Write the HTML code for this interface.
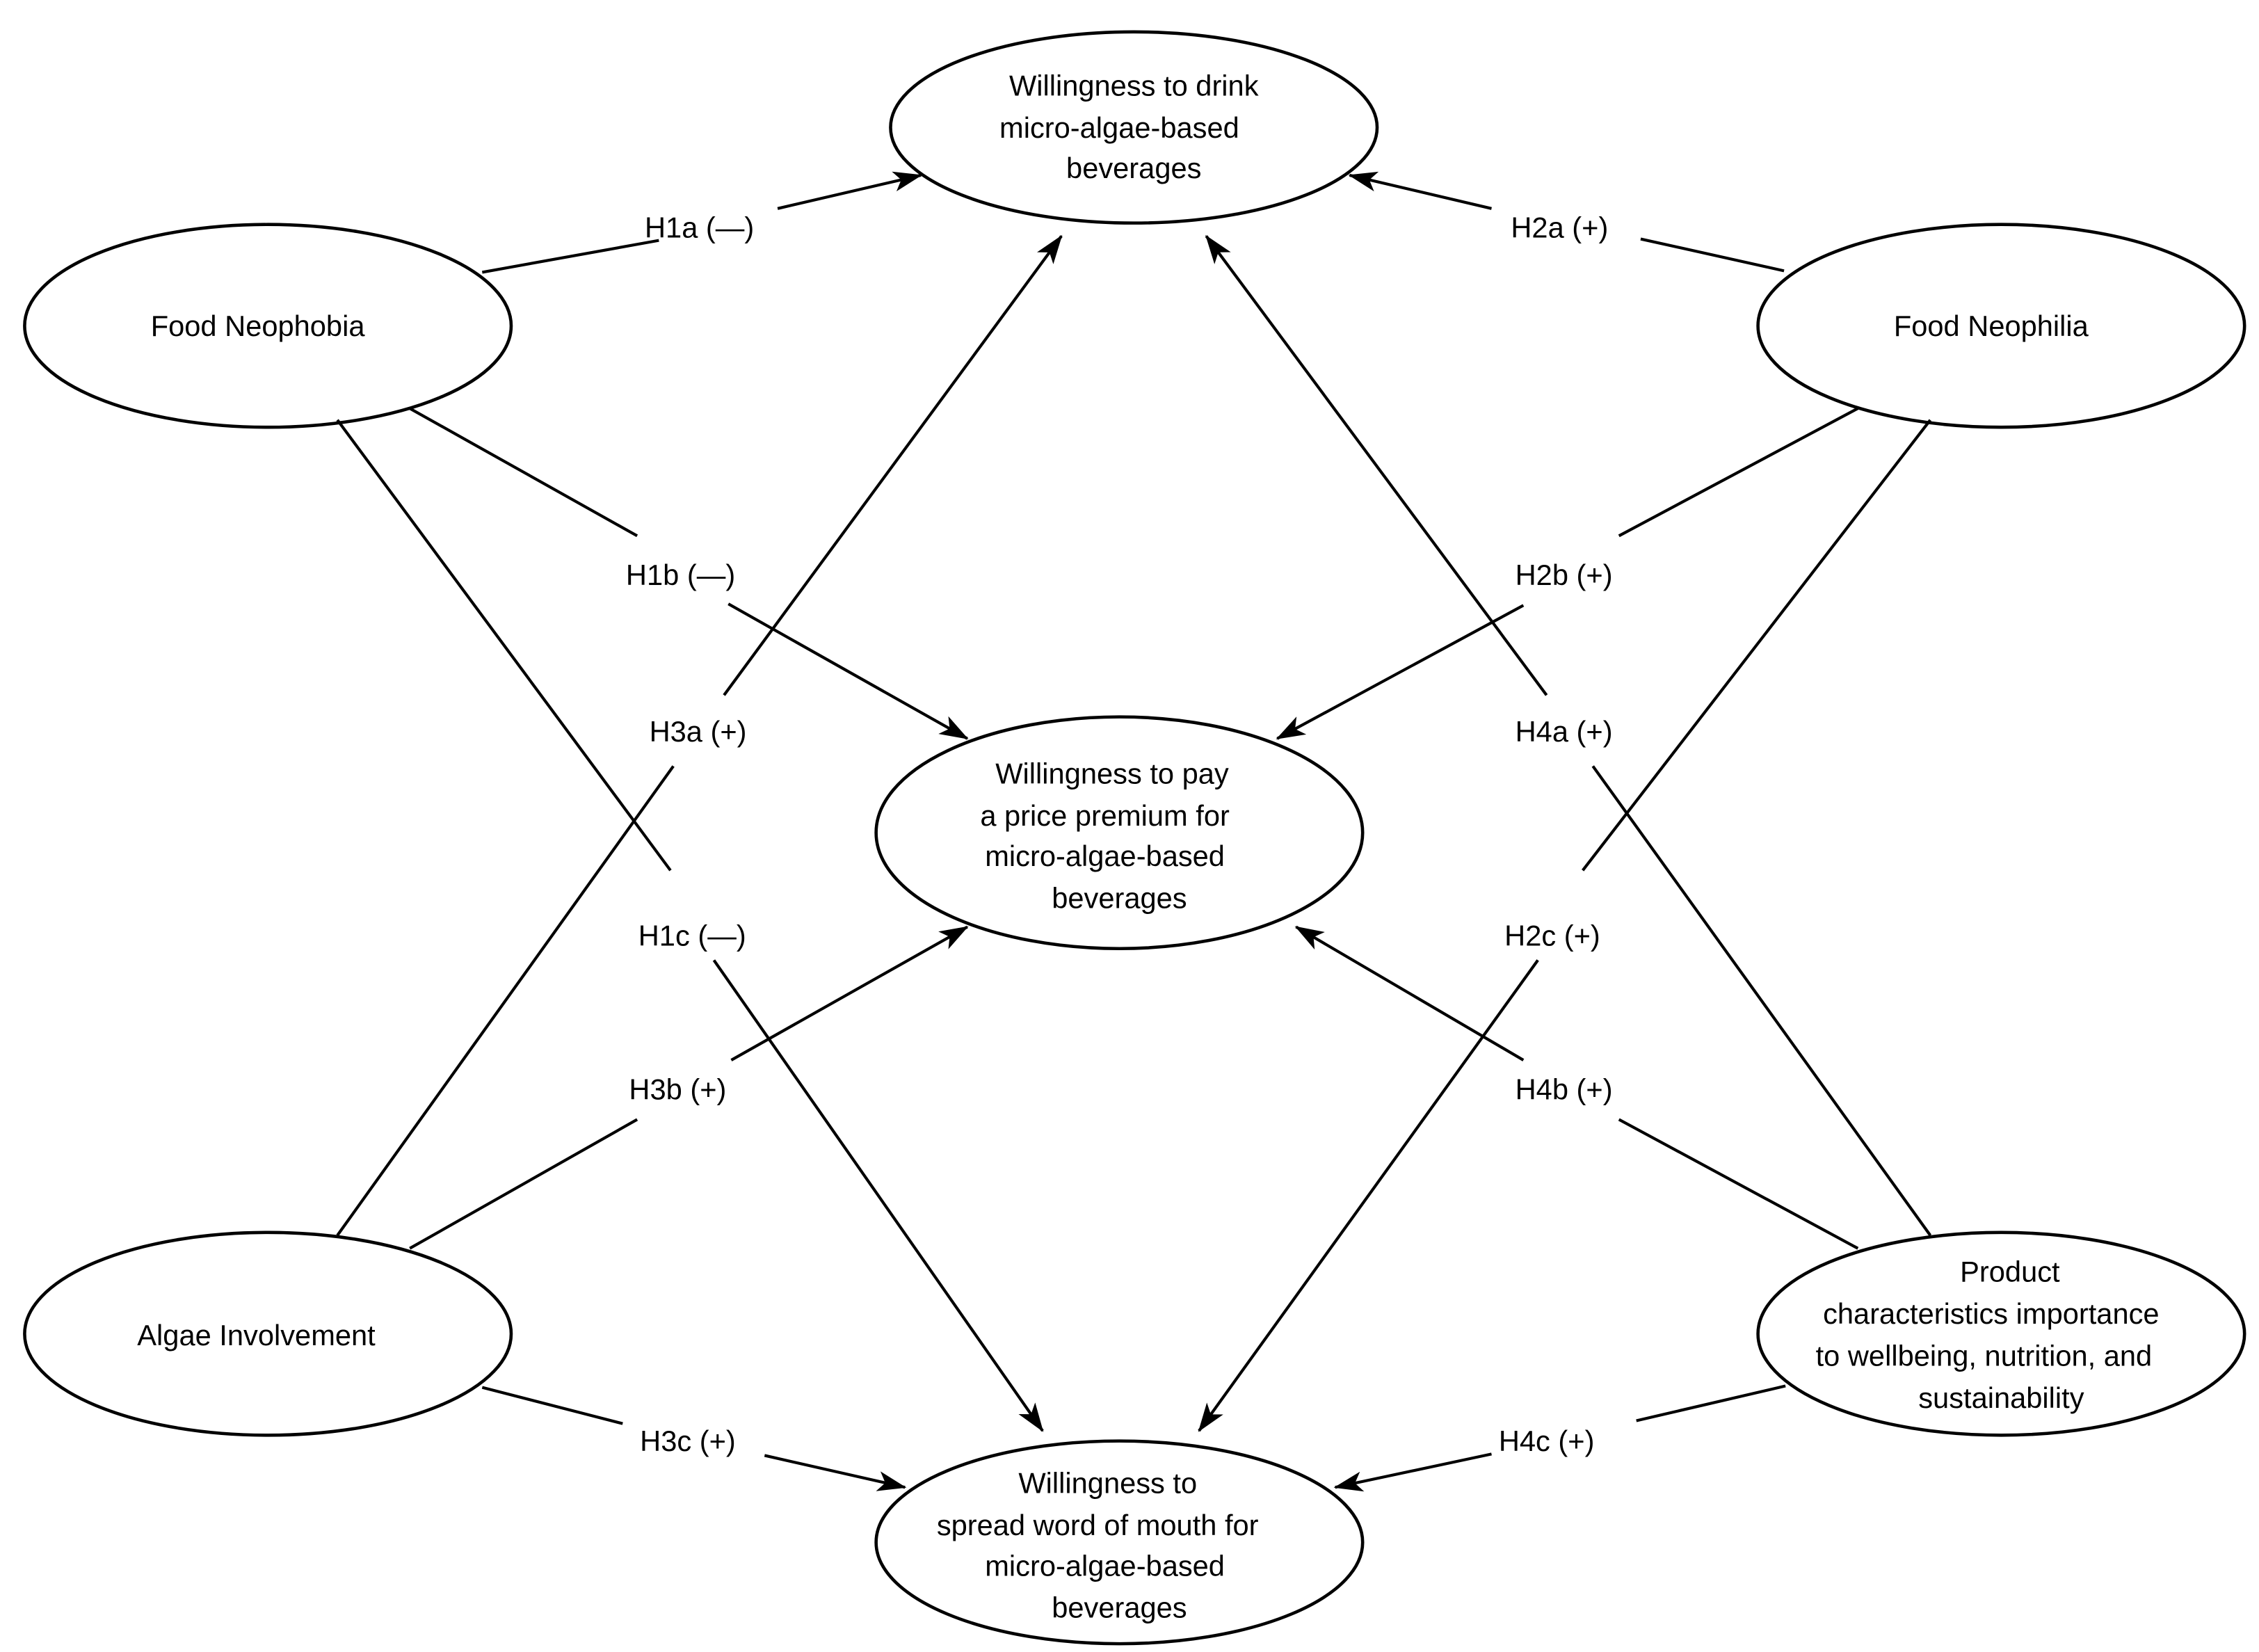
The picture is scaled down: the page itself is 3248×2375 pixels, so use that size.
<!DOCTYPE html>
<html><head><meta charset="utf-8"><style>html,body{margin:0;padding:0;background:#fff}svg{display:block}</style></head>
<body>
<svg width="3248" height="2375" viewBox="0 0 1560 1140.7" xmlns="http://www.w3.org/2000/svg" font-family="Liberation Sans, Arial, sans-serif" font-size="20">
<defs>
<marker id="a" viewBox="0 0 20 14" refX="19" refY="7" markerWidth="20" markerHeight="14" markerUnits="userSpaceOnUse" orient="auto">
<path d="M0,0 L20,7 L0,14 L5,7 z" fill="#000"/>
</marker>
</defs>
<g fill="none" stroke="#000" stroke-width="2.2">
<ellipse cx="783" cy="88" rx="168" ry="66"/>
<ellipse cx="185" cy="225" rx="168" ry="70"/>
<ellipse cx="1382" cy="225" rx="168" ry="70"/>
<ellipse cx="773" cy="575" rx="168" ry="80"/>
<ellipse cx="185" cy="921" rx="168" ry="70"/>
<ellipse cx="1382" cy="921" rx="168" ry="70"/>
<ellipse cx="773" cy="1065" rx="168" ry="70"/>
</g>
<g stroke="#000" stroke-width="2">
<line x1="333" y1="188" x2="455" y2="166"/><line x1="537" y1="144" x2="636" y2="121" marker-end="url(#a)"/>
<line x1="1232" y1="187" x2="1133" y2="165"/><line x1="1030" y1="144" x2="932" y2="121" marker-end="url(#a)"/>
<line x1="283" y1="282" x2="440" y2="370"/><line x1="503" y1="417" x2="668" y2="510" marker-end="url(#a)"/>
<line x1="1283" y1="282" x2="1118" y2="370"/><line x1="1052" y1="418" x2="882" y2="510" marker-end="url(#a)"/>
<line x1="233" y1="853" x2="465" y2="529"/><line x1="500" y1="480" x2="733" y2="163" marker-end="url(#a)"/>
<line x1="1333" y1="853" x2="1100" y2="529"/><line x1="1068" y1="480" x2="833" y2="163" marker-end="url(#a)"/>
<line x1="233" y1="290" x2="463" y2="601"/><line x1="493" y1="663" x2="720" y2="988" marker-end="url(#a)"/>
<line x1="1333" y1="290" x2="1093" y2="601"/><line x1="1062" y1="663" x2="828" y2="988" marker-end="url(#a)"/>
<line x1="283" y1="862" x2="440" y2="773"/><line x1="505" y1="732" x2="668" y2="640" marker-end="url(#a)"/>
<line x1="1283" y1="862" x2="1118" y2="773"/><line x1="1052" y1="732" x2="895" y2="640" marker-end="url(#a)"/>
<line x1="333" y1="958" x2="430" y2="983"/><line x1="528" y1="1005" x2="625" y2="1027" marker-end="url(#a)"/>
<line x1="1233" y1="957" x2="1130" y2="981"/><line x1="1030" y1="1004" x2="922" y2="1027" marker-end="url(#a)"/>
</g>
<g text-anchor="middle" fill="#000">
<text x="783" y="66">Willingness to drink</text>
<text x="773" y="95">micro-algae-based</text>
<text x="783" y="123">beverages</text>
<text x="178" y="232">Food Neophobia</text>
<text x="1375" y="232">Food Neophilia</text>
<text x="768" y="541">Willingness to pay</text>
<text x="763" y="570">a price premium for</text>
<text x="763" y="598">micro-algae-based</text>
<text x="773" y="627">beverages</text>
<text x="177" y="929">Algae Involvement</text>
<text x="1388" y="885">Product</text>
<text x="1375" y="914">characteristics importance</text>
<text x="1370" y="943">to wellbeing, nutrition, and</text>
<text x="1382" y="972">sustainability</text>
<text x="765" y="1031">Willingness to</text>
<text x="758" y="1060">spread word of mouth for</text>
<text x="763" y="1088">micro-algae-based</text>
<text x="773" y="1117">beverages</text>
<text x="483" y="164">H1a (—)</text>
<text x="1077" y="164">H2a (+)</text>
<text x="470" y="404">H1b (—)</text>
<text x="1080" y="404">H2b (+)</text>
<text x="482" y="512">H3a (+)</text>
<text x="1080" y="512">H4a (+)</text>
<text x="478" y="653">H1c (—)</text>
<text x="1072" y="653">H2c (+)</text>
<text x="468" y="759">H3b (+)</text>
<text x="1080" y="759">H4b (+)</text>
<text x="475" y="1002">H3c (+)</text>
<text x="1068" y="1002">H4c (+)</text>
</g>
</svg>
</body></html>
